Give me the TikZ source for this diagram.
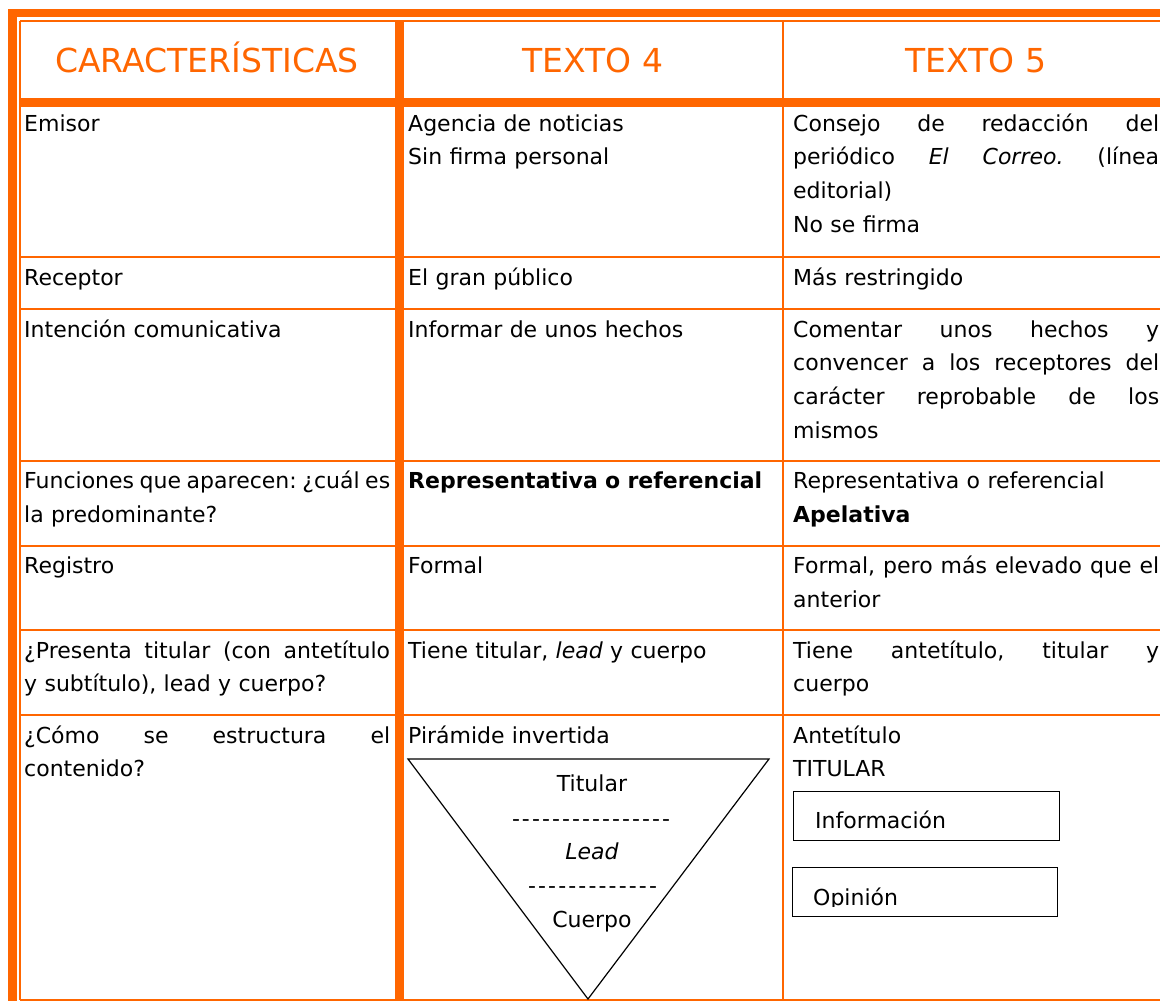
\documentclass[tikz,border=0pt]{standalone}
\usepackage{fontspec}
\setmainfont{DejaVu Sans}
\definecolor{orng}{RGB}{255,102,0}
\frenchspacing
\newcommand\jline[1]{\makebox[\hsize][s]{\frenchspacing\spaceskip=0pt\xspaceskip=0pt #1}}
\newcommand\dashrow[2]{\makebox[#1]{#2}}
\begin{document}
\begin{tikzpicture}[x=1pt,y=-1pt,
  thinrule/.style={draw=orng,line width=2pt},
  head/.style={font=\fontsize{33}{40}\selectfont,text=orng,inner sep=0pt,anchor=base},
  cell/.style={font=\fontsize{22}{33.7}\selectfont,inner sep=0pt,anchor=base west,align=left,text width=366pt},
  plain/.style={font=\fontsize{22}{33.7}\selectfont,inner sep=0pt,anchor=base},
  plainw/.style={font=\fontsize{22}{33.7}\selectfont,inner sep=0pt,anchor=base west},
  boxx/.style={draw=black,line width=1.3pt,inner sep=0pt,anchor=north west}
]
\useasboundingbox (0,0) rectangle (1160,1001);
\clip (0,0) rectangle (1160,1001);
\fill[white] (0,0) rectangle (1160,1001);
% frame
\fill[orng] (8,9) rectangle (1170,17.3);
\fill[orng] (8,9) rectangle (17,1010);
\draw[thinrule] (20,21) -- (1170,21);
\draw[thinrule] (20,21) -- (20,999.5);
\fill[orng] (20,98.3) rectangle (1170,106.7);
\fill[orng] (395,21) rectangle (404,1010);
\draw[thinrule] (782.7,21) -- (782.7,999.5);
\foreach \yy in {256.7,309,461,545.7,630,715,999.5}
  \draw[thinrule] (20,\yy) -- (1170,\yy);
% headers
\node[head] (h1) at (207,72.7) {CARACTERÍSTICAS};
\node[head] (h2) at (593,72.7) {TEXTO 4};
\node[head] (h3) at (976,72.7) {TEXTO 5};
% row 1
\node[cell] (a1) at (24,131) {Emisor};
\node[cell] (b1) at (408,131) {Agencia de noticias\\Sin firma personal};
\node[cell] (c1) at (793,131) {\jline{Consejo de redacción del}\\\jline{periódico \textit{El Correo.} (línea}\\editorial)\\No se firma};
% row 2
\node[cell] (a2) at (24,285) {Receptor};
\node[cell] (b2) at (408,285) {El gran público};
\node[cell] (c2) at (793,285) {Más restringido};
% row 3
\node[cell] (a3) at (24,337) {Intención comunicativa};
\node[cell] (b3) at (408,337) {Informar de unos hechos};
\node[cell] (c3) at (793,337) {\jline{Comentar unos hechos y}\\\jline{convencer a los receptores del}\\\jline{carácter reprobable de los}\\mismos};
% row 4
\node[cell] (a4) at (24,488.5) {\jline{Funciones que aparecen: ¿cuál es}\\la predominante?};
\node[cell] (b4) at (408,488.5) {\textbf{Representativa o referencial}};
\node[cell] (c4) at (793,488.5) {Representativa o referencial\\\textbf{Apelativa}};
% row 5
\node[cell] (a5) at (24,573.5) {Registro};
\node[cell] (b5) at (408,573.5) {Formal};
\node[cell] (c5) at (793,573.5) {\jline{Formal, pero más elevado que el}\\anterior};
% row 6
\node[cell] (a6) at (24,658) {\jline{¿Presenta titular (con antetítulo}\\y subtítulo), lead y cuerpo?};
\node[cell] (b6) at (408,658) {Tiene titular, \textit{lead} y cuerpo};
\node[cell] (c6) at (793,658) {\jline{Tiene antetítulo, titular y}\\cuerpo};
% row 7
\node[cell] (a7) at (24,743) {\jline{¿Cómo se estructura el}\\contenido?};
\node[cell] (b7) at (408,743) {Pirámide invertida};
\node[cell] (c7) at (793,743) {Antetítulo\\TITULAR};
% pyramid
\coordinate (pl) at (408,759);
\coordinate (pr) at (769,759);
\coordinate (pb) at (588,999);
\draw[black,line width=1.2pt,line join=miter] (pl) -- (pr) -- (pb) -- cycle;
\node[plain] (p1) at (592,791) {Titular};
\node[plain] (p2) at (591,826) {\dashrow{158pt}{-\hfill-\hfill-\hfill-\hfill-\hfill-\hfill-\hfill-\hfill-\hfill-\hfill-\hfill-\hfill-\hfill-\hfill-\hfill-}};
\node[plain] (p3) at (592,859) {\textit{Lead}};
\node[plain] (p4) at (592.5,893) {\dashrow{129pt}{-\hfill-\hfill-\hfill-\hfill-\hfill-\hfill-\hfill-\hfill-\hfill-\hfill-\hfill-\hfill-}};
\node[plain] (p5) at (592,927) {Cuerpo};
% boxes
\node[boxx,minimum width=266pt,minimum height=49pt] (bi) at (793,791) {};
\node[plainw] (ti) at (815,828) {Información};
\node[boxx,minimum width=265pt,minimum height=49pt] (bo) at (792,867) {};
\begin{scope}
\clip (792,867) rectangle (1057,906);
\node[plainw] (to) at (813,905) {Opinión};
\end{scope}
\end{tikzpicture}
\end{document}
